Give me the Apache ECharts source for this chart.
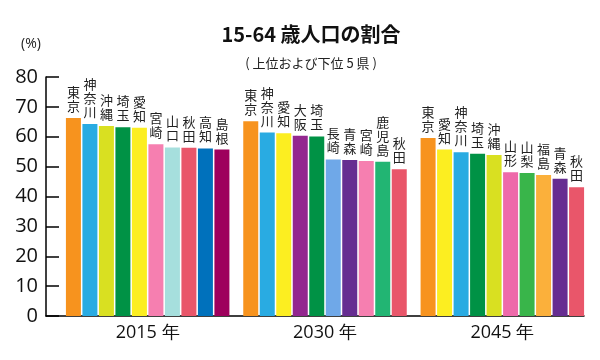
<!DOCTYPE html>
<html><head><meta charset="utf-8">
<script src="https://cdn.jsdelivr.net/npm/echarts@6/dist/echarts.min.js"></script>
<style>html,body{margin:0;padding:0;background:#fff}#c{width:600px;height:360px}</style>
</head><body><div id="c"></div>
<script>
var years = ['2015 年', '2030 年', '2045 年'];
var names2015 = ['東京','神奈川','沖縄','埼玉','愛知','宮崎','山口','秋田','高知','島根'];
var values2015 = [66.3, 64.3, 63.6, 63.2, 63.0, 57.5, 56.4, 56.3, 56.1, 55.7];
var names2030 = ['東京','神奈川','愛知','大阪','埼玉','長崎','青森','宮崎','鹿児島','秋田'];
var values2030 = [65.2, 61.4, 61.2, 60.3, 60.1, 52.4, 52.2, 51.9, 51.6, 49.1];
var names2045 = ['東京','愛知','神奈川','埼玉','沖縄','山形','山梨','福島','青森','秋田'];
var values2045 = [59.6, 55.7, 54.8, 54.3, 53.9, 48.1, 47.9, 47.2, 45.9, 43.1];
var yTicks = [0, 10, 20, 30, 40, 50, 60, 70, 80];
var prefColors = {
  '東京':'#f7931e','神奈川':'#29abe2','沖縄':'#d9e021','埼玉':'#009245','愛知':'#fcee21',
  '宮崎':'#f67fb0','山口':'#a6dfdd','秋田':'#e9566a','高知':'#0071bc','島根':'#9e005d',
  '大阪':'#93278f','長崎':'#6fa8e8','青森':'#662d91','鹿児島':'#22b573',
  '山形':'#ee6aaa','山梨':'#39b54a','福島':'#fbb03b'
};

var allNames = [names2015, names2030, names2045];
var allValues = [values2015, values2030, values2045];
var FONT = '"Noto Sans CJK JP", "Noto Sans", sans-serif';

var series = [];
for (var r = 0; r < 10; r++) {
  var data = [];
  for (var g = 0; g < 3; g++) {
    var nm = allNames[g][r];
    data.push({ value: allValues[g][r], name: nm, itemStyle: { color: prefColors[nm] } });
  }
  series.push({
    type: 'bar', xAxisIndex: 0, yAxisIndex: 0,
    barWidth: 15, barGap: '10%',
    data: data,
    label: {
      show: true, position: 'top', distance: 5,
      fontFamily: FONT, fontSize: 13, lineHeight: 14, color: '#222',
      formatter: function (p) { return p.data.name.split('').join('\n'); }
    },
    emphasis: { disabled: true },
    animation: false
  });
}

var chart = echarts.init(document.getElementById('c'));
chart.setOption({
  animation: false,
  backgroundColor: '#fff',
  title: [
    { text: '15-64 歳人口の割合', left: 306, top: 19, textAlign: 'center',
      textStyle: { fontFamily: FONT, fontSize: 20, fontWeight: 'bold', color: '#111' } },
    { text: '( 上位および下位 5 県 )', left: 306, top: 52, textAlign: 'center',
      textStyle: { fontFamily: FONT, fontSize: 13, fontWeight: 'normal', color: '#222' } },
    { text: '(%)', left: 16, top: 32,
      textStyle: { fontFamily: '"Open Sans", sans-serif', fontSize: 14, fontWeight: 'normal', color: '#222' } }
  ],
  grid: [
    { left: 59, right: 9, top: 77, bottom: 44 },
    { left: 46, right: 16, top: 77, bottom: 44 }
  ],
  xAxis: [
    { type: 'category', gridIndex: 0, data: years,
      axisLine: { show: false }, axisTick: { show: false },
      axisLabel: { fontFamily: '"Open Sans", sans-serif', fontSize: 18, color: '#111', margin: 8 } },
    { type: 'value', gridIndex: 1, min: 0, max: 1,
      axisLine: { show: true, onZero: false, lineStyle: { color: '#000', width: 1.5 } },
      axisTick: { show: false }, axisLabel: { show: false }, splitLine: { show: false } }
  ],
  yAxis: [
    { type: 'value', gridIndex: 0, min: yTicks[0], max: yTicks[yTicks.length - 1], interval: 10,
      offset: 13,
      axisLine: { show: true, lineStyle: { color: '#000', width: 1.5 } },
      axisTick: { show: true, inside: true, length: 13, lineStyle: { color: '#000', width: 1.5 } },
      axisLabel: { fontFamily: '"Open Sans", sans-serif', fontSize: 20, color: '#111', margin: 8 },
      splitLine: { show: false } },
    { type: 'value', gridIndex: 1, show: false, min: 0, max: 1 }
  ],
  series: series
});
</script></body></html>
